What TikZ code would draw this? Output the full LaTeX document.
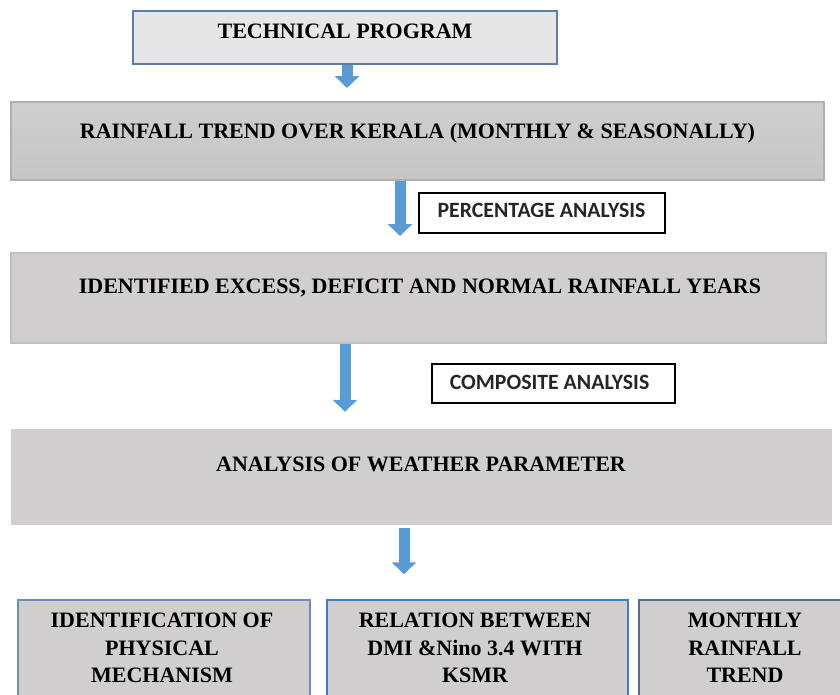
\documentclass[tikz,border=0pt]{standalone}
\usepackage{fontspec}
\setmainfont{Liberation Serif}
\newfontfamily\labfont{Carlito}
\usetikzlibrary{arrows.meta,calc}
\definecolor{arrowblue}{HTML}{5B9BD5}
\definecolor{topfill}{HTML}{E6E6E6}
\definecolor{topedge}{HTML}{5A7FA8}
\definecolor{grayfill}{HTML}{D0CECE}
\definecolor{grayedge}{HTML}{B0B0B0}
\definecolor{edgeA}{HTML}{6A8FBF}
\definecolor{edgeB}{HTML}{3A80C8}
\definecolor{edgeC}{HTML}{4F6F8F}
\tikzset{
  boxbase/.style={rectangle, inner sep=0pt, anchor=center},
  bigtxt/.style={font=\bfseries\fontsize{22}{27.5}\selectfont, align=center, inner sep=0pt, text=black},
  labtxt/.style={font=\labfont\bfseries\fontsize{21.8}{25}\selectfont, inner sep=0pt, text=black!85},
  labbox/.style={boxbase, draw=black, line width=1.4pt, fill=white},
  blockarrow/.style={draw=arrowblue, line width=11pt, -{Triangle[width=24pt,length=12pt]}}
}
\begin{document}
\begin{tikzpicture}[x=1pt,y=-1pt]
\useasboundingbox (0,0) rectangle (840,694);
\clip (0,0) rectangle (840,694);
% boxes
\node[boxbase, draw=topedge, line width=1.5pt, fill=topfill, minimum width=424pt, minimum height=53pt] (b1) at (345,37.5) {};
\node[bigtxt] (t1) at (345,31) {TECHNICAL PROGRAM};

\node[boxbase, draw=grayedge, line width=2pt, top color=gray!38, bottom color=gray!45, minimum width=813pt, minimum height=78pt] (b2) at (417.5,141) {};
\node[bigtxt] (t2) at (417.5,133) {RAINFALL TREND OVER KERALA (MONTHLY \& SEASONALLY)};

\node[labbox, minimum width=246pt, minimum height=40pt] (p) at (542,213) {};
\node[labtxt] (pt) at (541.5,210.5) {PERCENTAGE ANALYSIS};

\node[boxbase, draw=grayedge!80, line width=2pt, fill=grayfill, minimum width=815pt, minimum height=90pt] (b3) at (418.5,298) {};
\node[bigtxt] (t3) at (420,288) {IDENTIFIED EXCESS, DEFICIT AND NORMAL RAINFALL YEARS};

\node[labbox, minimum width=243pt, minimum height=39pt] (c) at (553.5,383.5) {};
\node[labtxt] (ct) at (549.5,382.5) {COMPOSITE ANALYSIS};

\node[boxbase, fill=grayfill, minimum width=821pt, minimum height=96pt] (b4) at (421.5,477) {};
\node[bigtxt] (t4) at (421,464) {ANALYSIS OF WEATHER PARAMETER};

\node[boxbase, draw=edgeA, line width=1.5pt, fill=grayfill, minimum width=292pt, minimum height=140pt] (bA) at (164,670) {};
\node[bigtxt] (tA) at (162,648) {IDENTIFICATION OF\\PHYSICAL\\MECHANISM};

\node[boxbase, draw=edgeB, line width=1.5pt, fill=grayfill, minimum width=301pt, minimum height=140pt] (bB) at (477.5,670) {};
\node[bigtxt] (tB) at (475,648) {RELATION BETWEEN\\DMI \&Nino 3.4 WITH\\KSMR};

\node[boxbase, draw=edgeC, line width=1.5pt, fill=grayfill, minimum width=220pt, minimum height=140pt] (bC) at (749,670) {};
\node[bigtxt] (tC) at (745,648) {MONTHLY\\RAINFALL\\TREND};

% arrows
\draw[blockarrow] ($(b1.south)+(2,0)$) -- ($(b2.north)+(-70.5,-13)$);
\draw[blockarrow] ($(b2.south)+(-17.5,0)$) -- ($(b3.north)+(-18.5,-16)$);
\draw[blockarrow] ($(b3.south)+(-73.5,0)$) -- ($(b4.north)+(-76.5,-17)$);
\draw[blockarrow] ($(b4.south)+(-17.5,3)$) -- ($(bB.north)+(-73.5,-25)$);
\end{tikzpicture}
\end{document}
